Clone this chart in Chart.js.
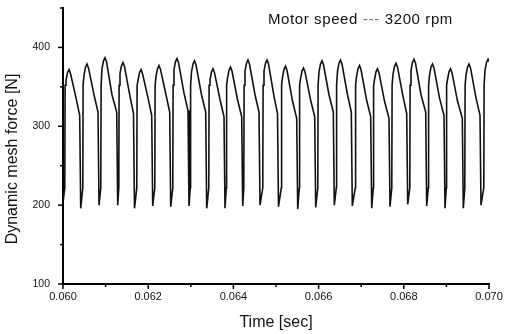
<!DOCTYPE html>
<html>
<head>
<meta charset="utf-8">
<script src="https://cdn.jsdelivr.net/npm/chart.js@4.4.1/dist/chart.umd.min.js"></script>
<style>
  html, body { margin: 0; padding: 0; background: #fff; }
  #wrap { width: 509px; height: 334px; }
</style>
</head>
<body>
<div id="wrap"><canvas id="c" width="509" height="334"></canvas></div>
<script>
// Dynamic mesh force over one 10 ms window, motor at 3200 rpm.
// Each row is one mesh cycle: rise, crest, decline, drop to the trough.
const time = [
  0.0600000,
  0.0600423, 0.0600493, 0.0600704, 0.0601056, 0.0601408, 0.0601761, 0.0603052, 0.0603920, 0.0604155,
  0.0604648, 0.0604718, 0.0604930, 0.0605282, 0.0605634, 0.0605986, 0.0607277, 0.0608216, 0.0608451,
  0.0608873, 0.0608944, 0.0609155, 0.0609507, 0.0609859, 0.0610211, 0.0611502, 0.0612606, 0.0612840,
  0.0613099, 0.0613169, 0.0613380, 0.0613732, 0.0614085, 0.0614437, 0.0615728, 0.0616549, 0.0616784,
  0.0617324, 0.0617394, 0.0617606, 0.0617958, 0.0618310, 0.0618662, 0.0619953, 0.0620822, 0.0621056,
  0.0621549, 0.0621620, 0.0621831, 0.0622183, 0.0622535, 0.0622887, 0.0624179, 0.0625047, 0.0625282,
  0.0625775, 0.0625845, 0.0626056, 0.0626409, 0.0626761, 0.0627113, 0.0628404, 0.0629343, 0.0629577,
  0.0629883, 0.0629953, 0.0630164, 0.0630516, 0.0630869, 0.0631221, 0.0632512, 0.0633498, 0.0633732,
  0.0634225, 0.0634296, 0.0634507, 0.0634859, 0.0635211, 0.0635563, 0.0636854, 0.0637793, 0.0638028,
  0.0638334, 0.0638404, 0.0638615, 0.0638967, 0.0639320, 0.0639671, 0.0640962, 0.0641948, 0.0642183,
  0.0642441, 0.0642512, 0.0642723, 0.0643075, 0.0643427, 0.0643779, 0.0645070, 0.0646009, 0.0646244,
  0.0646901, 0.0646972, 0.0647183, 0.0647535, 0.0647887, 0.0648239, 0.0649531, 0.0650352, 0.0650587,
  0.0651244, 0.0651315, 0.0651526, 0.0651878, 0.0652230, 0.0652582, 0.0653873, 0.0654859, 0.0655094,
  0.0655470, 0.0655540, 0.0655751, 0.0656103, 0.0656455, 0.0656808, 0.0658099, 0.0659085, 0.0659320,
  0.0659812, 0.0659883, 0.0660094, 0.0660446, 0.0660798, 0.0661150, 0.0662441, 0.0663451, 0.0663686,
  0.0664155, 0.0664225, 0.0664437, 0.0664789, 0.0665141, 0.0665493, 0.0666784, 0.0667676, 0.0667911,
  0.0668615, 0.0668686, 0.0668897, 0.0669249, 0.0669601, 0.0669953, 0.0671244, 0.0672230, 0.0672465,
  0.0672840, 0.0672911, 0.0673122, 0.0673474, 0.0673826, 0.0674178, 0.0675469, 0.0676526, 0.0676761,
  0.0677183, 0.0677254, 0.0677465, 0.0677817, 0.0678169, 0.0678521, 0.0679812, 0.0680681, 0.0680916,
  0.0681409, 0.0681479, 0.0681690, 0.0682042, 0.0682394, 0.0682747, 0.0684038, 0.0685141, 0.0685376,
  0.0685751, 0.0685822, 0.0686033, 0.0686385, 0.0686737, 0.0687089, 0.0688380, 0.0689437, 0.0689672,
  0.0689977, 0.0690048, 0.0690259, 0.0690611, 0.0690963, 0.0691315, 0.0692606, 0.0693733, 0.0693968,
  0.0694320, 0.0694390, 0.0694602, 0.0694954, 0.0695305, 0.0695658, 0.0696949, 0.0697887, 0.0698122,
  0.0698780, 0.0698850, 0.0699062, 0.0699413, 0.0699766, 0.0700000
];
const force = [
  203,
  222, 352, 358, 368, 372, 367, 336, 314, 196,
  222, 352, 365, 375, 379, 374, 340, 318, 200,
  222, 352, 373, 383, 387, 382, 340, 318, 200,
  222, 352, 367, 377, 381, 376, 338, 316, 196,
  222, 352, 358, 368, 372, 367, 336, 314, 199,
  222, 352, 363, 373, 377, 372, 340, 318, 198,
  222, 352, 372, 382, 386, 381, 342, 320, 199,
  222, 352, 369, 379, 383, 378, 340, 318, 196,
  222, 352, 359, 369, 373, 368, 334, 312, 196,
  222, 352, 361, 371, 375, 370, 334, 312, 199,
  222, 352, 370, 380, 384, 379, 340, 318, 200,
  222, 352, 370, 380, 384, 379, 338, 316, 198,
  222, 352, 362, 372, 376, 371, 332, 310, 195,
  222, 352, 360, 370, 374, 369, 334, 312, 197,
  222, 352, 369, 379, 383, 378, 340, 318, 200,
  222, 352, 370, 380, 384, 379, 340, 318, 199,
  222, 352, 363, 373, 377, 372, 334, 312, 196,
  222, 352, 359, 369, 373, 368, 332, 310, 198,
  222, 352, 366, 376, 380, 375, 338, 316, 201,
  222, 352, 371, 381, 385, 380, 340, 318, 199,
  222, 352, 365, 375, 379, 374, 336, 314, 196,
  222, 352, 359, 369, 373, 368, 332, 310, 196,
  222, 352, 365, 375, 379, 374, 336, 314, 200,
  222, 352, 371, 381, 385, 382
];

// Axis ranges and tick spacing
const xRange = [0.060, 0.070];
const xStep = 0.001;
const yRange = [100, 450];
const yStep = 50;

const xTitle = 'Time [sec]';
const yTitle = 'Dynamic mesh force [N]';
const noteParts = ['Motor speed', '---', '3200 rpm'];

const INK = '#111';
const FONT = "'Liberation Sans', Arial, Helvetica, sans-serif";

const isMajorX = v => Math.round(v * 1000) % 2 === 0;
const isMajorY = v => Math.round(v) % 100 === 0;

// Outward tick marks: long on labelled values, short in between
const tickMarks = {
  id: 'tickMarks',
  afterDraw(chart) {
    const { ctx } = chart;
    const xs = chart.scales.x, ys = chart.scales.y;
    ctx.save();
    ctx.strokeStyle = '#000';
    ctx.lineWidth = 1.5;
    xs.ticks.forEach((t, i) => {
      const px = xs.getPixelForTick(i);
      const len = isMajorX(t.value) ? 5 : 3;
      ctx.beginPath();
      ctx.moveTo(px, xs.top);
      ctx.lineTo(px, xs.top + len);
      ctx.stroke();
    });
    ys.ticks.forEach((t, i) => {
      const py = ys.getPixelForTick(i);
      const len = isMajorY(t.value) ? 5 : 3;
      ctx.beginPath();
      ctx.moveTo(ys.right, py);
      ctx.lineTo(ys.right - len, py);
      ctx.stroke();
    });
    ctx.restore();
  }
};

// Vertical axis title and the operating-condition note
const annotations = {
  id: 'annotations',
  afterDraw(chart) {
    const { ctx, chartArea } = chart;
    const ys = chart.scales.y;
    ctx.save();
    ctx.fillStyle = INK;
    ctx.font = '16px ' + FONT;
    ctx.textAlign = 'center';
    ctx.textBaseline = 'middle';
    ctx.translate(ys.left + 13, (chartArea.top + chartArea.bottom) / 2 + 13);
    ctx.rotate(-Math.PI / 2);
    ctx.fillText(yTitle, 0, 0);
    ctx.restore();

    ctx.save();
    ctx.font = '15px ' + FONT;
    try { ctx.letterSpacing = '0.6px'; } catch (e) {}
    ctx.textAlign = 'left';
    ctx.textBaseline = 'alphabetic';
    const base = chartArea.top + 16;
    let x = chartArea.left + 205;
    ctx.fillStyle = INK;
    ctx.fillText(noteParts[0], x, base);
    x += ctx.measureText(noteParts[0]).width + 5;
    ctx.fillStyle = '#777';
    ctx.fillText(noteParts[1], x, base);
    x += ctx.measureText(noteParts[1]).width + 5;
    ctx.fillStyle = INK;
    ctx.fillText(noteParts[2], x, base);
    ctx.restore();
  }
};

const points = time.map((t, i) => ({ x: t, y: force[i] }));

new Chart(document.getElementById('c'), {
  type: 'scatter',
  data: {
    datasets: [{
      data: points,
      showLine: true,
      borderColor: INK,
      borderWidth: 1.6,
      pointRadius: 0,
      tension: 0,
      fill: false
    }]
  },
  options: {
    responsive: false,
    animation: false,
    events: [],
    layout: { padding: { top: 8, right: 20, left: 0, bottom: 0 } },
    plugins: { legend: { display: false }, tooltip: { enabled: false } },
    scales: {
      x: {
        type: 'linear',
        min: xRange[0],
        max: xRange[1],
        afterFit: s => { s.height = 50; s.paddingLeft = 0; s.paddingRight = 0; },
        grid: { display: true, drawOnChartArea: false, drawTicks: false },
        border: { display: true, color: '#000', width: 2 },
        ticks: {
          stepSize: xStep,
          autoSkip: false,
          maxRotation: 0,
          padding: 6,
          color: INK,
          font: { family: FONT, size: 11 },
          callback: v => (isMajorX(v) ? v.toFixed(3) : '')
        },
        title: {
          display: true,
          text: xTitle,
          color: INK,
          font: { family: FONT, size: 16 },
          padding: { top: 0, bottom: 1.5 }
        }
      },
      y: {
        type: 'linear',
        min: yRange[0],
        max: yRange[1],
        afterFit: s => { s.width = 63; s.paddingTop = 0; s.paddingBottom = 0; },
        grid: { display: true, drawOnChartArea: false, drawTicks: false },
        border: { display: true, color: '#000', width: 2 },
        ticks: {
          stepSize: yStep,
          autoSkip: false,
          padding: 13,
          color: INK,
          font: { family: FONT, size: 10.5 },
          callback: v => (isMajorY(v) ? String(v) : '')
        }
      }
    }
  },
  plugins: [tickMarks, annotations]
});
</script>
</body>
</html>
